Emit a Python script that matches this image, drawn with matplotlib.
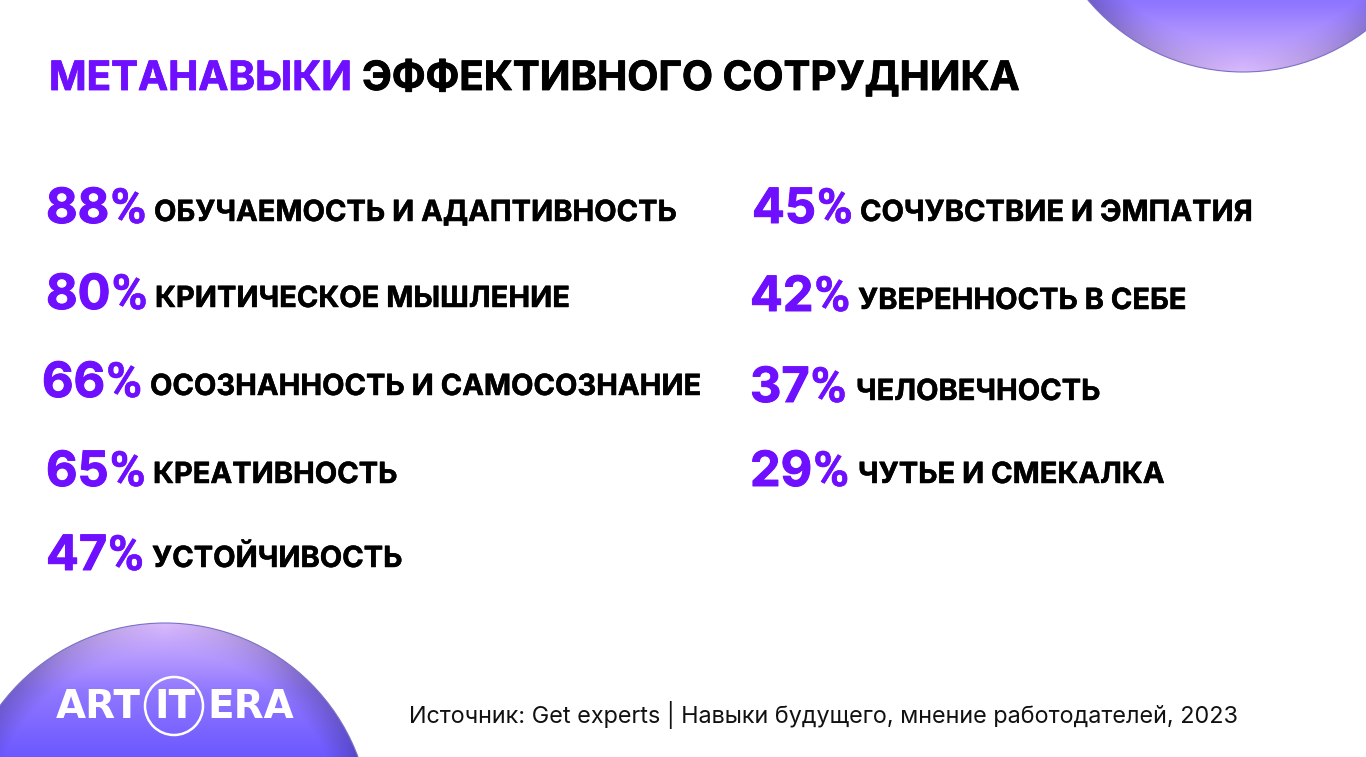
import numpy as np
from matplotlib import pyplot as plt
from matplotlib import patheffects as pe
from matplotlib.patches import Circle

plt.rcParams['font.family'] = ['Inter', 'DejaVu Sans']

title_accent = "МЕТАНАВЫКИ"
title_rest = "ЭФФЕКТИВНОГО СОТРУДНИКА"

left_values = ["88", "80", "66", "65", "47"]
left_labels = ["ОБУЧАЕМОСТЬ И АДАПТИВНОСТЬ", "КРИТИЧЕСКОЕ МЫШЛЕНИЕ",
               "ОСОЗНАННОСТЬ И САМОСОЗНАНИЕ", "КРЕАТИВНОСТЬ", "УСТОЙЧИВОСТЬ"]
right_values = ["45", "42", "37", "29"]
right_labels = ["СОЧУВСТВИЕ И ЭМПАТИЯ", "УВЕРЕННОСТЬ В СЕБЕ",
                "ЧЕЛОВЕЧНОСТЬ", "ЧУТЬЕ И СМЕКАЛКА"]
source = "Источник: Get experts | Навыки будущего, мнение работодателей, 2023"

# x of value, x of label, baseline of value, baseline of label
left_pos = [(46, 154, 222, 221), (46, 155, 308, 307), (42, 150, 396, 395),
            (46, 153, 485, 483), (46, 152, 569, 567)]
right_pos = [(752, 860, 222, 221), (750, 858, 310, 309), (750, 856, 401, 400),
             (750, 858, 485, 483)]

PURPLE = "#6f0fff"


def heavy(color, w=0.7):
    return [pe.withStroke(linewidth=w, foreground=color)]


def blob(ax, cx, cy, r, flip=False):
    # vertical gradient, lilac on the far edge and saturated blue toward the slide corner
    n = 400
    yy, xx = np.mgrid[-1:1:n * 1j, -1:1:n * 1j]
    t = np.clip((1 - yy if flip else yy + 1) / 0.72, 0, 1)
    light = np.array([0.85, 0.73, 0.99])
    mid = np.array([0.57, 0.47, 1.0])
    deep = np.array([0.39, 0.32, 1.0])
    img = np.where((t < 0.45)[..., None],
                   light + (mid - light) * (t / 0.45)[..., None],
                   mid + (deep - mid) * ((t - 0.45) / 0.55)[..., None])
    # edges go darker at the sides
    dist = np.sqrt(xx ** 2 + yy ** 2)
    rim = np.clip((dist - 0.86) / 0.14, 0, 1)[..., None] * np.clip(np.abs(xx) * 1.6, 0, 1)[..., None]
    img = img * (1 - 0.2 * rim)
    im = ax.imshow(img, extent=(cx - r, cx + r, cy + r, cy - r), zorder=1, interpolation="bilinear")
    ax.add_patch(Circle((cx, cy), r, fc="none", ec="#7a70c8", lw=0.8, zorder=2))
    im.set_clip_path(Circle((cx, cy), r, transform=ax.transData))


fig = plt.figure(figsize=(13.66, 7.57), dpi=100)
ax = fig.add_axes([0, 0, 1, 1])

blob(ax, 165, 829, 206)
blob(ax, 1243, -131, 203, flip=True)
ax.set_xlim(0, 1366)
ax.set_ylim(757, 0)
ax.axis("off")

ax.text(49, 90, title_accent, color=PURPLE, fontsize=29.05, fontweight="bold", va="baseline",
        path_effects=heavy(PURPLE, 0.6))
ax.text(362, 90, title_rest, color="black", fontsize=29.05, fontweight="bold", va="baseline",
        path_effects=heavy("black", 0.6))

fig.canvas.draw()
renderer = fig.canvas.get_renderer()

for values, labels, pos in [(left_values, left_labels, left_pos),
                            (right_values, right_labels, right_pos)]:
    for val, lab, (xv, xl, yv, yl) in zip(values, labels, pos):
        t = ax.text(xv, yv + 1, val, color=PURPLE, fontsize=35, fontweight="bold", va="baseline",
                    path_effects=heavy(PURPLE, 0.7))
        # the percent sign of the slide font is narrow, Roboto is close
        x_end = t.get_window_extent(renderer).x1
        ax.text(x_end + 1, yv + 1, "%", color=PURPLE, fontsize=35, fontweight="bold", va="baseline",
                family="Roboto", path_effects=heavy(PURPLE, 0.4))
        ax.text(xl, yl, lab, color="black", fontsize=20.95, fontweight="bold", va="baseline",
                path_effects=heavy("black", 0.35))

ax.text(409, 723, source, color="#111111", fontsize=16.85, va="baseline")

# logo
logo_font = dict(color="white", fontsize=28, fontweight="bold", va="baseline", zorder=3,
                 family="DejaVu Sans")
ax.text(56, 718, "ART", **logo_font)
ax.text(175, 718, "IT", ha="center", **logo_font)
ax.text(207, 718, "ERA", **logo_font)
ax.add_patch(Circle((174, 706), 29, fc="none", ec="white", lw=1.8, zorder=3))

fig.savefig("out.png", dpi=100)
